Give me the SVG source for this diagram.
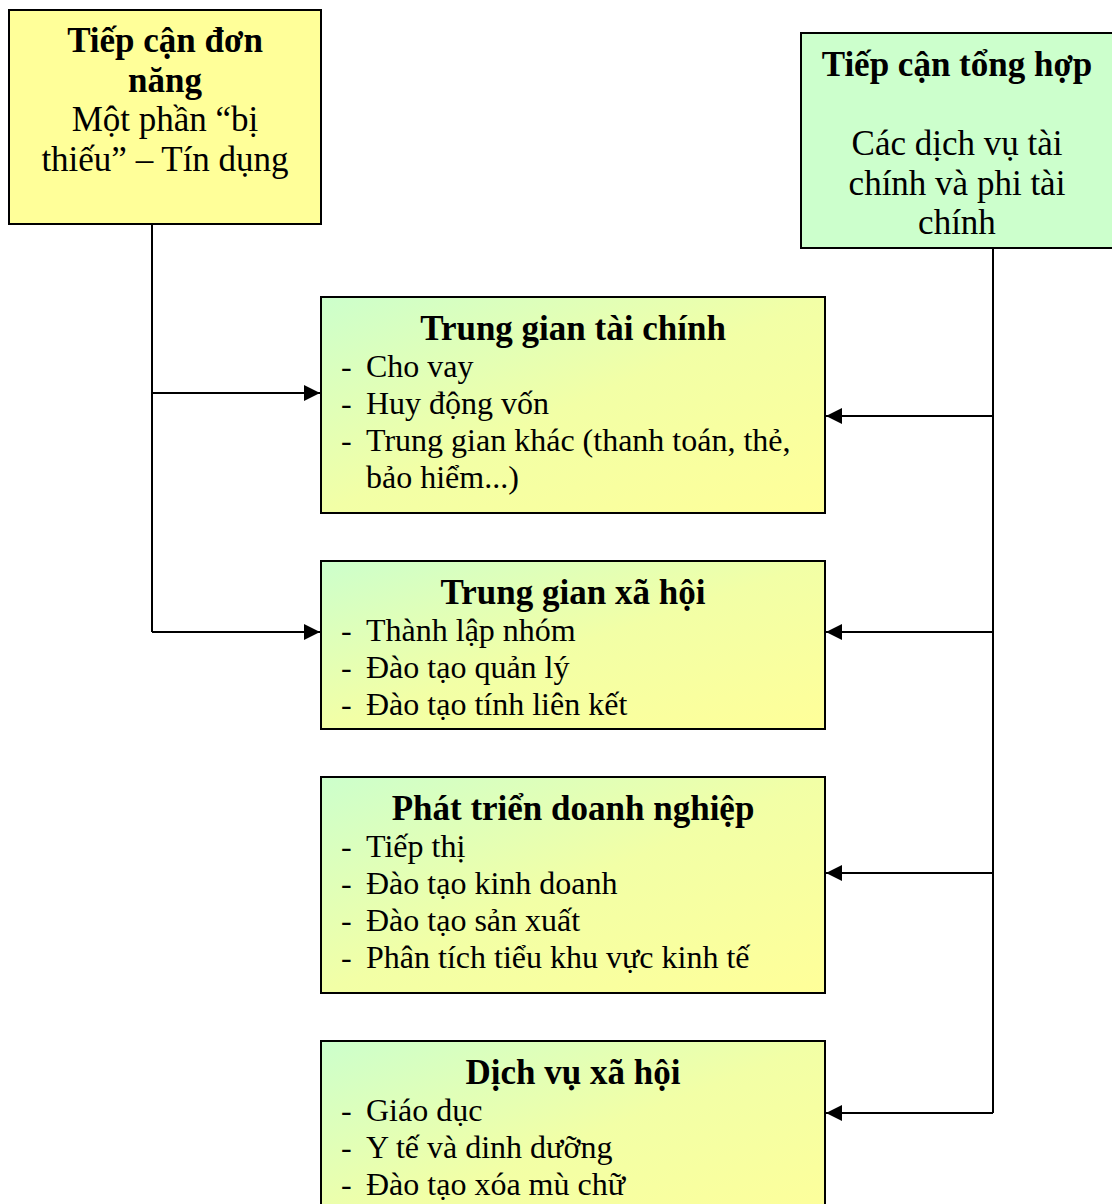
<svg xmlns="http://www.w3.org/2000/svg" width="1112" height="1204" viewBox="0 0 1112 1204">
<defs>
<linearGradient id="gy" x1="0" y1="0" x2="1" y2="1">
<stop offset="0" stop-color="#ccffcc"/>
<stop offset="0.5" stop-color="#f2ffa6"/>
<stop offset="1" stop-color="#ffff99"/>
</linearGradient>
<marker id="ar" viewBox="0 0 10 10" refX="10" refY="5" markerWidth="16" markerHeight="16" markerUnits="userSpaceOnUse" orient="auto">
<path d="M0,0 L10,5 L0,10 z" fill="#000"/>
</marker>
<style>
text{font-family:"Liberation Serif","Times New Roman",serif;font-size:35px;fill:#000}
.b{font-weight:bold}
.c{text-anchor:middle}
.i{font-size:32px}
.box{stroke:#000;stroke-width:2}
.ln{fill:none;stroke:#000;stroke-width:2}
</style>
</defs>
<rect width="1112" height="1204" fill="#fff"/>
<g id="connectors">
<polyline class="ln" points="152,224 152,632"/>
<line class="ln" x1="152" y1="393" x2="320" y2="393" marker-end="url(#ar)"/>
<line class="ln" x1="152" y1="632" x2="320" y2="632" marker-end="url(#ar)"/>
<polyline class="ln" points="993,248 993,1113"/>
<line class="ln" x1="993" y1="416" x2="826" y2="416" marker-end="url(#ar)"/>
<line class="ln" x1="993" y1="632" x2="826" y2="632" marker-end="url(#ar)"/>
<line class="ln" x1="993" y1="873" x2="826" y2="873" marker-end="url(#ar)"/>
<line class="ln" x1="993" y1="1113" x2="826" y2="1113" marker-end="url(#ar)"/>
</g>
<g id="n1">
<rect class="box" x="9" y="10" width="312" height="214" fill="#ffff99"/>
<text class="b c" x="165" y="52">Tiếp cận đơn</text>
<text class="b c" x="165" y="92">năng</text>
<text class="c" x="165" y="131">Một phần “bị</text>
<text class="c" x="165" y="171">thiếu” – Tín dụng</text>
</g>
<g id="n2">
<rect class="box" x="801" y="33" width="312" height="215" fill="#ccffcc"/>
<text class="b c" x="957" y="76">Tiếp cận tổng hợp</text>
<text class="c" x="957" y="155">Các dịch vụ tài</text>
<text class="c" x="957" y="195">chính và phi tài</text>
<text class="c" x="957" y="234">chính</text>
</g>
<g id="nA">
<rect class="box" x="321" y="297" width="504" height="216" fill="url(#gy)"/>
<text class="b c" x="573" y="340">Trung gian tài chính</text>
<g class="i"><text class="i" x="341" y="377">-</text><text class="i" x="366" y="377">Cho vay</text>
<text class="i" x="341" y="414">-</text><text class="i" x="366" y="414">Huy động vốn</text>
<text class="i" x="341" y="451">-</text><text class="i" x="366" y="451">Trung gian khác (thanh toán, thẻ,</text>
<text class="i" x="366" y="488">bảo hiểm...)</text></g>
</g>
<g id="nB">
<rect class="box" x="321" y="561" width="504" height="168" fill="url(#gy)"/>
<text class="b c" x="573" y="604">Trung gian xã hội</text>
<text class="i" x="341" y="641">-</text><text class="i" x="366" y="641">Thành lập nhóm</text>
<text class="i" x="341" y="678">-</text><text class="i" x="366" y="678">Đào tạo quản lý</text>
<text class="i" x="341" y="715">-</text><text class="i" x="366" y="715">Đào tạo tính liên kết</text>
</g>
<g id="nC">
<rect class="box" x="321" y="777" width="504" height="216" fill="url(#gy)"/>
<text class="b c" x="573" y="820">Phát triển doanh nghiệp</text>
<text class="i" x="341" y="857">-</text><text class="i" x="366" y="857">Tiếp thị</text>
<text class="i" x="341" y="894">-</text><text class="i" x="366" y="894">Đào tạo kinh doanh</text>
<text class="i" x="341" y="931">-</text><text class="i" x="366" y="931">Đào tạo sản xuất</text>
<text class="i" x="341" y="968">-</text><text class="i" x="366" y="968">Phân tích tiểu khu vực kinh tế</text>
</g>
<g id="nD">
<rect class="box" x="321" y="1041" width="504" height="200" fill="url(#gy)"/>
<text class="b c" x="573" y="1084">Dịch vụ xã hội</text>
<text class="i" x="341" y="1121">-</text><text class="i" x="366" y="1121">Giáo dục</text>
<text class="i" x="341" y="1158">-</text><text class="i" x="366" y="1158">Y tế và dinh dưỡng</text>
<text class="i" x="341" y="1195">-</text><text class="i" x="366" y="1195">Đào tạo xóa mù chữ</text>
</g>
</svg>
